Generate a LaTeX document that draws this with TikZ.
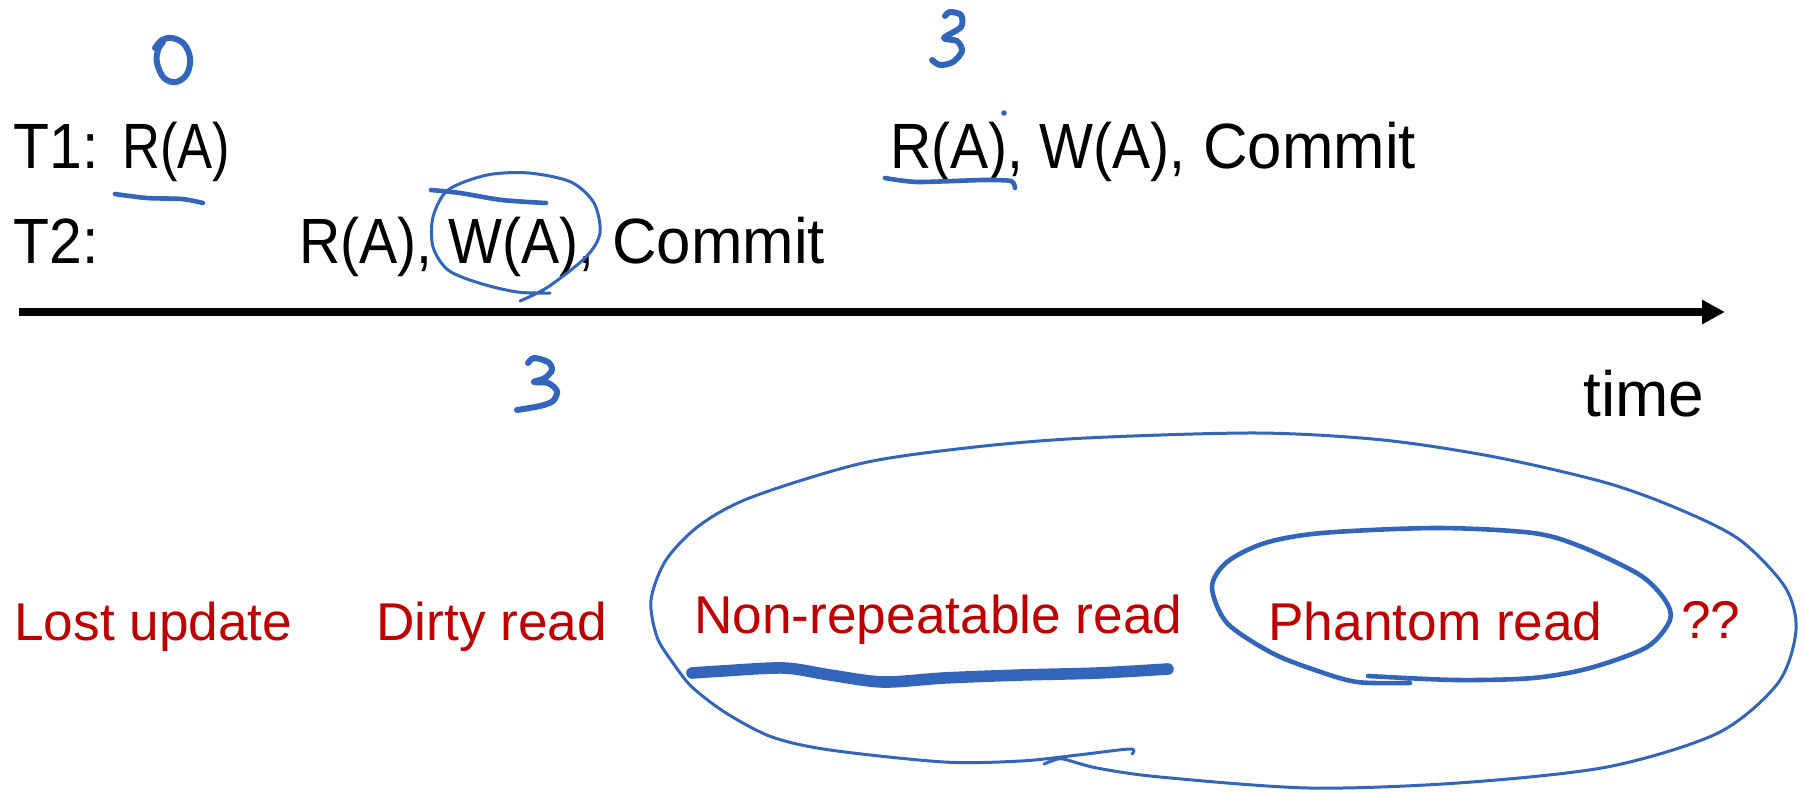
\documentclass[tikz,border=0pt]{standalone}
\usepackage{fontspec}
\setmainfont{Liberation Sans}
\usetikzlibrary{arrows.meta}
\definecolor{penblue}{RGB}{51,102,187}
\definecolor{darkred}{RGB}{192,0,0}
\newcommand\narrow[2]{\scalebox{#1}[1]{#2}}
\tikzset{
  blk/.style={anchor=base west, inner sep=0pt, font=\fontsize{32pt}{38pt}\selectfont, text=black},
  redtxt/.style={anchor=base west, inner sep=0pt, font=\fontsize{26.6pt}{32pt}\selectfont, text=darkred},
  pen/.style={draw=penblue, line cap=round, line join=round, line width=1.5pt},
  digit/.style={pen, line width=3pt},
  uline/.style={pen, line width=2.3pt},
  fatline/.style={pen, line width=5.8pt},
  axis/.style={draw=black, line width=4pt, -{Triangle[length=11.5pt,width=11.5pt]}}
}
\begin{document}
\begin{tikzpicture}[x=0.5pt, y=-0.5pt]
\fill[white] (0,0) rectangle (1806,793);
\useasboundingbox (0,0) rectangle (1806,793);

% transactions
\node[blk] (t1lab) at (13,168) {\narrow{0.92}{T1:}};
\node[blk] (t1r) at (122,168) {\narrow{0.82}{R(A)}};
\node[blk] (t1rest) at (890,168) {\narrow{0.893}{R(A), W(A),} \narrow{0.965}{Commit}};
\node[blk] (t2lab) at (13,263) {\narrow{0.92}{T2:}};
\node[blk] (t2ops) at (299,263) {\narrow{0.893}{R(A), W(A),} \narrow{0.965}{Commit}};

% time axis
\coordinate (axs) at (19,312);
\coordinate (axe) at (1725,312);
\draw[axis] (axs) -- (axe);
\node[blk] (timelbl) at (1583,416) {time};

% anomalies
\node[redtxt] (lost) at (14,640) {Lost update};
\node[redtxt] (dirty) at (376,640) {Dirty read};
\node[redtxt] (nonrep) at (694,633) {Non-repeatable read};
\node[redtxt] (phantom) at (1268,640) {Phantom read};
\node[redtxt] (qq) at (1681,638) {??};

% handwritten "0"
\draw[digit] plot[smooth, tension=0.6] coordinates {(155,48) (162,40) (172,38) (184,44) (190,58) (187,74) (176,82) (164,78) (157,63) (158,50) (163,42)};
% underline T1 R(A)
\draw[uline] plot[smooth] coordinates {(115,194) (147,198) (182,199) (203,203)};

% handwritten "3" top
\draw[digit] plot[smooth, tension=0.5] coordinates {(945,16) (950,12) (961,15) (961,27) (944,38) (957,41) (962,51) (953,62) (940,65) (932,60)};
% underline top R(A)
\draw[uline] plot[smooth, tension=0.4] coordinates {(885,178) (917,182) (983,180) (1011,181) (1015,188)};
\fill[penblue] (1004,113) circle[radius=1.4pt];

% circle around W(A)
\draw[pen] plot[smooth] coordinates {(520,301) (548,287) (586,257) (600,233) (594,203) (571,182) (529,173) (487,175) (448,190) (433,217) (433,247) (448,270) (479,283) (517,292) (550,293)};
\draw[uline] plot[smooth] coordinates {(431,190) (460,193) (502,200) (546,203)};

% handwritten "3" below axis
\draw[digit] plot[smooth, tension=0.5] coordinates {(528,363) (534,358) (548,362) (552,370) (545,378) (534,382) (548,383) (557,391) (553,401) (540,406) (517,410)};

% big loop
\draw[pen] plot[smooth] coordinates {(1132,754) (1130,749) (1078,755) (1021,761) (944,762) (830,750) (772,737) (726,713) (692,687) (673,663) (657,637) (651,600) (666,560) (700,525) (752,497) (863,463) (975,447) (1086,438) (1257,433) (1383,440) (1495,457) (1607,483) (1681,510) (1740,540) (1785,587) (1796,630) (1778,683) (1718,733) (1607,767) (1458,783) (1309,788) (1160,777) (1097,768) (1063,759) (1052,761) (1044,764)};

% inner loop
\draw[pen, line width=2.3pt] plot[smooth] coordinates {(1368,676) (1456,680) (1533,678) (1590,668) (1647,647) (1670,620) (1665,600) (1640,575) (1582,547) (1533,533) (1437,528) (1322,533) (1265,543) (1227,562) (1212,587) (1227,623) (1272,653) (1315,670) (1357,682) (1410,683)};

% thick underline
\draw[fatline] plot[smooth] coordinates {(692,673) (722,671) (784,668) (830,675) (883,682) (944,678) (1021,675) (1098,673) (1168,669)};
\end{tikzpicture}
\end{document}
